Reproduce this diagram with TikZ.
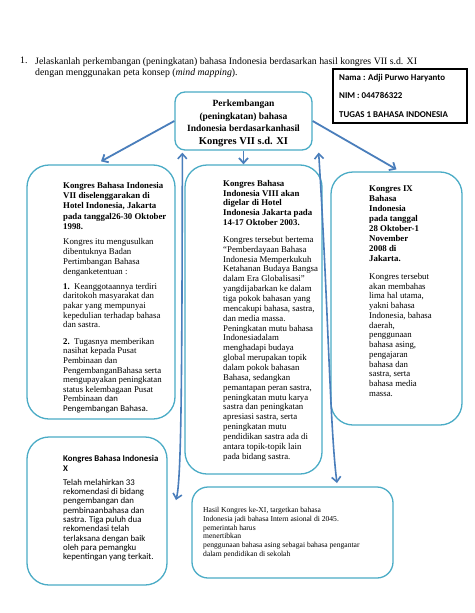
\documentclass[tikz,border=0pt]{standalone}
\usepackage{fontspec}
\setmainfont{Liberation Serif}
\newfontfamily\carl{Carlito}
\usetikzlibrary{arrows.meta}
\definecolor{boxc}{HTML}{4BACC6}
\definecolor{arrc}{HTML}{4A7EBB}
\begin{document}
\begin{tikzpicture}[x=1pt,y=-1pt,
 cbox/.style={draw=boxc, line width=1.3pt, rounded corners=#1, inner sep=0pt},
 txt/.style={anchor=north west, inner sep=0pt, align=left},
 arr/.style={draw=arrc, line width=1.8pt, -{Straight Barb[length=5pt,width=9pt]}},
 darr/.style={draw=arrc, line width=1.6pt, {Straight Barb[length=5pt,width=9pt]}-{Straight Barb[length=5pt,width=9pt]}},
]
\useasboundingbox[fill=white] (0,0) rectangle (474,613);

% question
\node[txt, font=\fontsize{9.8}{11.7}\selectfont] (qn) at (20,57) {1.};
\node[txt, font=\fontsize{9.8}{11.7}\selectfont] (q) at (35,57) {Jelaskanlah perkembangan (peningkatan) bahasa Indonesia berdasarkan hasil kongres VII s.d. XI\\dengan menggunakan peta konsep (\textit{mind mapping}).};

% name box
\node[draw=black, line width=1.5pt, minimum width=134, minimum height=54, inner sep=0pt] (name) at (400,96) {};
\node[txt, font=\carl\bfseries\fontsize{8.9}{18.5}\selectfont] (namet) at (339,74) {Nama : Adji Purwo Haryanto\\NIM : 044786322\\TUGAS 1 BAHASA INDONESIA};

% title box
\node[cbox=10pt, minimum width=137, minimum height=58] (title) at (243.5,121) {};
\node[anchor=north, inner sep=0pt, align=center, font=\bfseries\fontsize{9.5}{12.5}\selectfont] (titlet) at (243.5,100) {Perkembangan\\(peningkatan) bahasa\\Indonesia berdasarkanhasil\\{\fontsize{10.5}{12.5}\selectfont Kongres VII s.d. XI}};

% boxes
\node[cbox=22pt, minimum width=148, minimum height=254] (b7) at (101,292) {};
\node[cbox=22pt, minimum width=137, minimum height=309] (b8) at (253.5,319.5) {};
\node[cbox=22pt, minimum width=131, minimum height=253] (b9) at (396.5,298.5) {};
\node[cbox=22pt, minimum width=140, minimum height=148] (b10) at (97,511) {};
\node[cbox=16pt, minimum width=201, minimum height=91] (b11) at (292.5,532.5) {};

% box VII text
\node[txt, font=\bfseries\fontsize{8.8}{10.3}\selectfont] (h7) at (63,182) {Kongres Bahasa Indonesia\\VII diselenggarakan di\\Hotel Indonesia, Jakarta\\pada tanggal26-30 Oktober\\1998.};
\node[txt, font=\fontsize{8.8}{10}\selectfont] (p7a) at (63,238) {Kongres itu mengusulkan\\dibentuknya Badan\\Pertimbangan Bahasa\\denganketentuan :};
\node[txt, font=\fontsize{8.8}{9.6}\selectfont] (p7b) at (63,283) {\textbf{1.}~~Keanggotaannya terdiri\\daritokoh masyarakat dan\\pakar yang mempunyai\\kepedulian terhadap bahasa\\dan sastra.};
\node[txt, font=\fontsize{8.8}{9.6}\selectfont] (p7c) at (63,338) {\textbf{2.}~~Tugasnya memberikan\\nasihat kepada Pusat\\Pembinaan dan\\PengembanganBahasa serta\\mengupayakan peningkatan\\status kelembagaan Pusat\\Pembinaan {\carl dan}\\{\carl Pengembangan Bahasa.}};

% box VIII text
\node[txt, font=\bfseries\fontsize{8.8}{9.8}\selectfont] (h8) at (223,180) {Kongres Bahasa\\Indonesia VIII akan\\digelar di Hotel\\Indonesia Jakarta pada\\14-17 Oktober 2003.};
\node[txt, font=\fontsize{8.8}{9.86}\selectfont] (p8) at (223,236) {Kongres tersebut bertema\\``Pemberdayaan Bahasa\\Indonesia Memperkukuh\\Ketahanan Budaya Bangsa\\dalam Era Globalisasi''\\yangdijabarkan ke dalam\\tiga pokok bahasan yang\\mencakupi bahasa, sastra,\\dan media massa.\\Peningkatan mutu bahasa\\Indonesiadalam\\menghadapi budaya\\global merupakan topik\\dalam pokok bahasan\\Bahasa, sedangkan\\pemantapan peran sastra,\\peningkatan mutu karya\\sastra dan peningkatan\\apresiasi sastra, serta\\peningkatan mutu\\pendidikan sastra ada di\\antara topik-topik lain\\pada bidang sastra.};

% box IX text
\node[txt, font=\bfseries\fontsize{8.8}{10}\selectfont] (h9) at (369,186) {Kongres IX\\Bahasa\\Indonesia\\pada tanggal\\28 Oktober-1\\November\\2008 di\\Jakarta.};
\node[txt, font=\fontsize{8.8}{9.75}\selectfont] (p9) at (369,273) {Kongres tersebut\\akan membahas\\lima hal utama,\\yakni bahasa\\Indonesia, bahasa\\daerah,\\penggunaan\\bahasa asing,\\pengajaran\\bahasa dan\\sastra, serta\\bahasa media\\massa.};

% box X text
\node[txt, font=\carl\bfseries\fontsize{8.8}{10.5}\selectfont] (h10) at (63,455) {Kongres Bahasa Indonesia\\X};
\node[txt, font=\carl\fontsize{8.8}{9.3}\selectfont] (p10) at (63,479) {Telah melahirkan 33\\rekomendasi di bidang\\pengembangan dan\\pembinaanbahasa dan\\sastra. Tiga puluh dua\\rekomendasi telah\\terlaksana dengan baik\\oleh para pemangku\\kepentingan yang terkait.};

% box XI text
\node[txt, font=\fontsize{7.6}{8.8}\selectfont] (p11) at (203,507) {Hasil Kongres ke-XI, targetkan bahasa\\Indonesia jadi bahasa Intern asional di 2045.\\pemerintah harus\\menertibkan\\penggunaan bahasa asing sebagai bahasa pengantar\\dalam pendidikan di sekolah};

% connectors
\draw[arr] (title.west) -- ([yshift=3pt]b7.north);
\draw[arr] (title.east) -- ([yshift=2pt]b9.north);
\draw[arr] (title.south) -- (title.south |- b8.north);

\coordinate (lvt) at ([xshift=8pt,yshift=-2pt]title.south west);
\coordinate (lvb) at (176,500);
\coordinate (rvt) at ([xshift=6pt,yshift=-2pt]title.south east);
\coordinate (rvb) at (337,483);
\draw[darr] (lvt) .. controls (182,400) and (181,480) .. (lvb);
\draw[darr] (rvt) .. controls (328,300) and (330,430) .. (rvb);
\end{tikzpicture}
\end{document}
